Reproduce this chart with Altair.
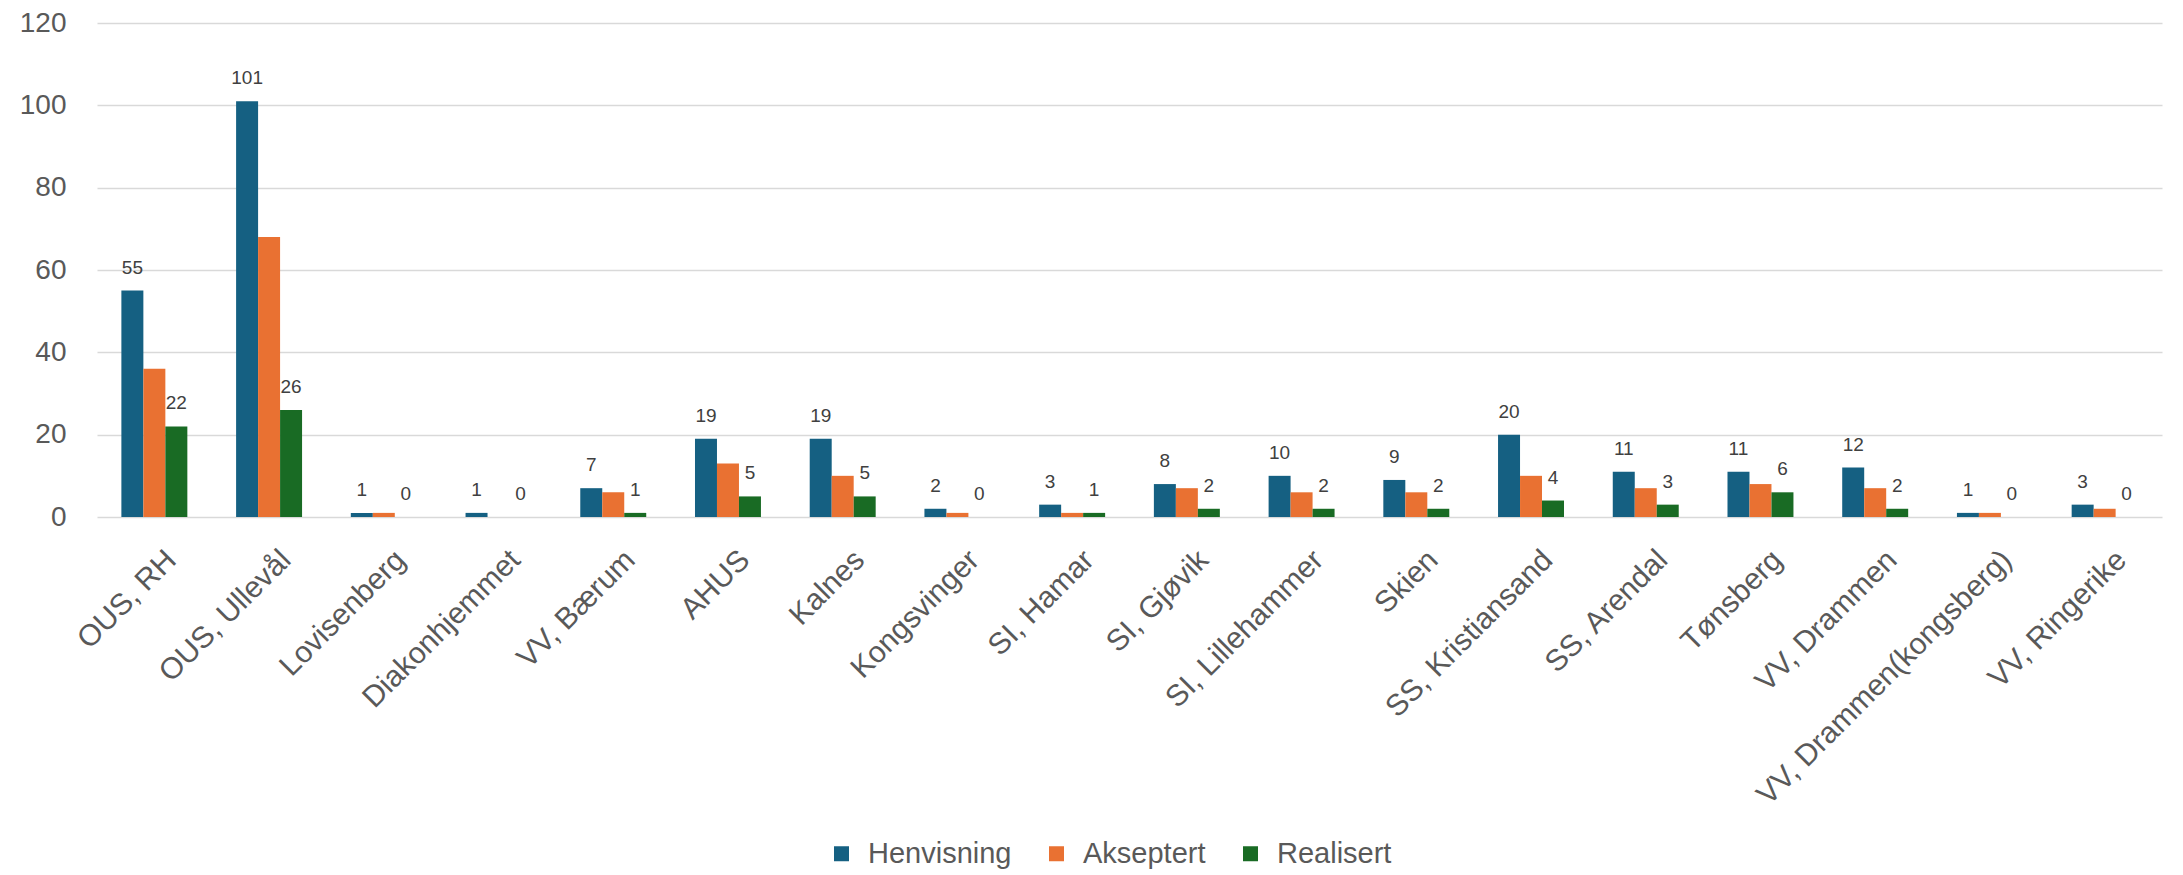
import altair as alt
import pandas as pd

categories = ["OUS, RH", "OUS, Ullevål", "Lovisenberg", "Diakonhjemmet", "VV, Bærum", "AHUS",
              "Kalnes", "Kongsvinger", "SI, Hamar", "SI, Gjøvik", "SI, Lillehammer", "Skien",
              "SS, Kristiansand", "SS, Arendal", "Tønsberg", "VV, Drammen",
              "VV, Drammen(kongsberg)", "VV, Ringerike"]
henvisning = [55, 101, 1, 1, 7, 19, 19, 2, 3, 8, 10, 9, 20, 11, 11, 12, 1, 3]
akseptert = [36, 68, 1, 0, 6, 13, 10, 1, 1, 7, 6, 6, 10, 7, 8, 7, 1, 2]
realisert = [22, 26, 0, 0, 1, 5, 5, 0, 1, 2, 2, 2, 4, 3, 6, 2, 0, 0]
series = ["Henvisning", "Akseptert", "Realisert"]
colors = ["#156082", "#E97132", "#196B24"]
labelled = ["Henvisning", "Realisert"]

rows = []
for s, vals in zip(series, [henvisning, akseptert, realisert]):
    for c, v in zip(categories, vals):
        rows.append({"Sted": c, "Serie": s, "Antall": v})
df = pd.DataFrame(rows)

FONT = "Liberation Sans"

x_enc = alt.X("Sted:N", sort=categories,
              scale=alt.Scale(paddingInner=0.425, paddingOuter=0.2125),
              axis=alt.Axis(title=None, labelAngle=-45, labelAlign="right", labelBaseline="middle",
                            labelFontSize=30, labelColor="#595959", labelFont=FONT,
                            labelPadding=38, labelOffset=17, labelLimit=0, labelOverlap=False,
                            domain=False, ticks=False, grid=False))
xo_enc = alt.XOffset("Serie:N", sort=series,
                     scale=alt.Scale(domain=series, paddingInner=0, paddingOuter=0))
y_enc = alt.Y("Antall:Q",
              scale=alt.Scale(domain=[0, 120], nice=False),
              axis=alt.Axis(title=None, values=[0, 20, 40, 60, 80, 100, 120],
                            labelFontSize=28, labelColor="#595959", labelFont=FONT,
                            labelPadding=31, domain=False, ticks=False,
                            grid=True, gridColor="#d9d9d9", gridWidth=1.5))

bars = alt.Chart().mark_bar(strokeWidth=0).encode(
    x=x_enc, xOffset=xo_enc, y=y_enc,
    color=alt.Color("Serie:N", sort=series,
                    scale=alt.Scale(domain=series, range=colors),
                    legend=alt.Legend(title=None, orient="none", direction="horizontal",
                                      legendX=730, legendY=816,
                                      symbolType="square", symbolSize=225, symbolStrokeWidth=0,
                                      labelFontSize=29, labelFont=FONT, labelColor="#595959",
                                      labelOffset=12, columnPadding=30))
)

labels = alt.Chart().transform_filter(
    alt.FieldOneOfPredicate(field="Serie", oneOf=labelled)
).mark_text(dy=-17, baseline="alphabetic", align="center", fontSize=19,
            font=FONT, color="#404040").encode(
    x=x_enc, xOffset=xo_enc, y=y_enc, text=alt.Text("Antall:Q")
)

chart = alt.layer(bars, labels, data=df).properties(
    width=2065, height=494,
    autosize=alt.AutoSizeParams(type="none"),
    padding={"left": 89, "top": 15, "right": 13, "bottom": 358},
).configure_view(stroke=None)

chart.save("out.html", embed_options={"renderer": "svg", "actions": False})
